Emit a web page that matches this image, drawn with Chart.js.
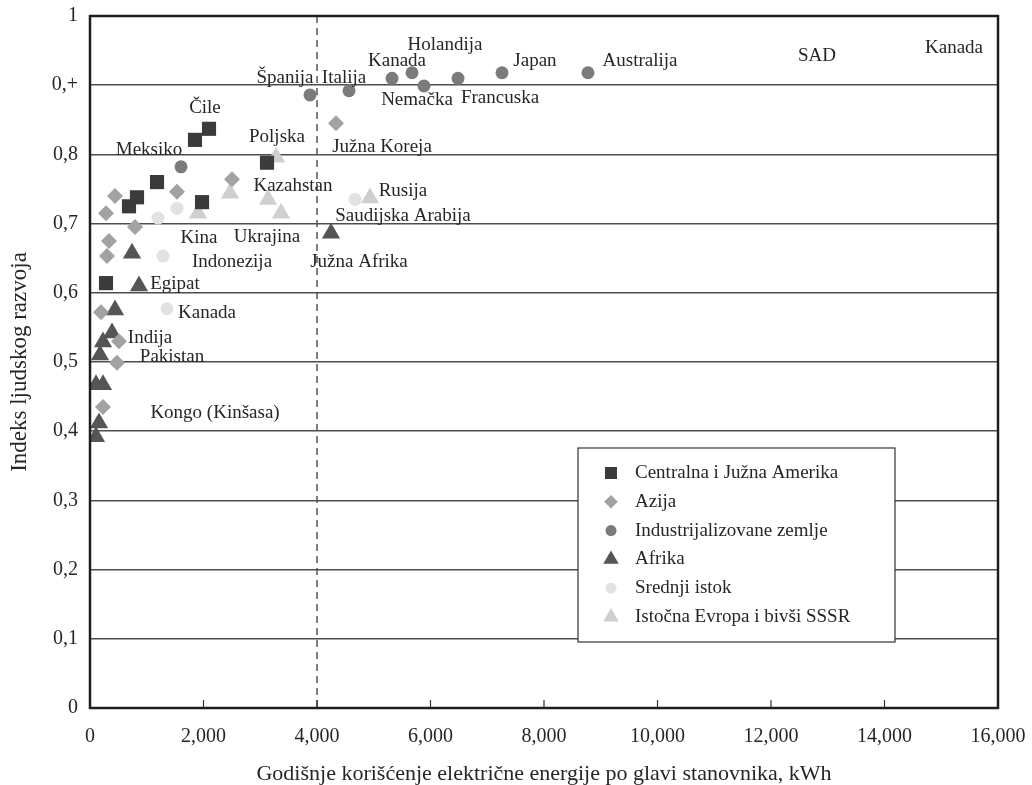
<!DOCTYPE html>
<html lang="sr">
<head>
<meta charset="UTF-8">
<title>Indeks ljudskog razvoja</title>
<script src="https://cdn.jsdelivr.net/npm/chart.js"></script>
<style>
  body { margin: 0; background: #fff; }
  #wrap { width: 1032px; height: 785px; }
</style>
</head>
<body>
<div id="wrap"><canvas id="hdiChart" width="1032" height="785"></canvas></div>
<script>
  // ---- podaci (kWh po stanovniku, indeks) ----
  const amerikaX = [282, 687, 828, 1181, 1850, 2097, 1974, 3119];
  const amerikaY = [0.614, 0.725, 0.738, 0.760, 0.821, 0.837, 0.731, 0.788];

  const azijaX = [282, 441, 793, 1533, 2502, 335, 300, 194, 511, 476, 229, 4335];
  const azijaY = [0.715, 0.740, 0.695, 0.746, 0.764, 0.675, 0.653, 0.572, 0.530, 0.499, 0.435, 0.845];

  const industrX = [1604, 3877, 4564, 5322, 5674, 5885, 6485, 7260, 8775];
  const industrY = [0.782, 0.886, 0.892, 0.910, 0.918, 0.899, 0.910, 0.918, 0.918];

  const afrikaX = [4247, 740, 863, 441, 388, 229, 176, 106, 229, 159, 106];
  const afrikaY = [0.686, 0.657, 0.610, 0.575, 0.542, 0.529, 0.510, 0.467, 0.467, 0.412, 0.392];

  const istokX = [1198, 1533, 1286, 1357, 4670];
  const istokY = [0.708, 0.722, 0.653, 0.577, 0.735];

  const evropaX = [1903, 2467, 3137, 3366, 3278, 4934];
  const evropaY = [0.715, 0.744, 0.735, 0.715, 0.796, 0.737];

  const xTickLabels = ['0', '2,000', '4,000', '6,000', '8,000', '10,000', '12,000', '14,000', '16,000'];
  const yTickLabels = ['0', '0,1', '0,2', '0,3', '0,4', '0,5', '0,6', '0,7', '0,8', '0,+', '1'];
  const granicaX = 4000;

  // nazivi zemalja uz tačke
  const nazivi = ['Čile', 'Meksiko', 'Španija', 'Italija', 'Kanada', 'Holandija', 'Japan', 'Australija',
    'SAD', 'Kanada', 'Nemačka', 'Francuska', 'Južna Koreja', 'Poljska', 'Kazahstan', 'Rusija',
    'Saudijska Arabija', 'Ukrajina', 'Kina', 'Indonezija', 'Južna Afrika', 'Egipat', 'Kanada',
    'Indija', 'Pakistan', 'Kongo (Kinšasa)'];
  const naziviX = [2026, 1040, 3436, 4476, 5410, 6256, 7841, 9692, 12811, 15225, 5762, 7225, 5145,
    3295, 3577, 5515, 5515, 3119, 1921, 2502, 4740, 1498, 2062, 1057, 1445, 2203];
  const naziviY = [0.867, 0.806, 0.910, 0.910, 0.935, 0.958, 0.935, 0.935, 0.942, 0.954, 0.879, 0.882,
    0.811, 0.825, 0.754, 0.747, 0.711, 0.681, 0.679, 0.645, 0.645, 0.613, 0.571, 0.535, 0.507, 0.426];

  const FONT = '"Liberation Serif", "Times New Roman", serif';

  function tacke(xs, ys) {
    return xs.map((x, i) => ({ x: x, y: ys[i] }));
  }

  const grupe = [
    { label: 'Centralna i Južna Amerika', data: tacke(amerikaX, amerikaY), style: 'rect', r: 10, color: '#3b3b3b' },
    { label: 'Azija', data: tacke(azijaX, azijaY), style: 'rectRot', r: 8, color: '#a2a2a2' },
    { label: 'Industrijalizovane zemlje', data: tacke(industrX, industrY), style: 'circle', r: 6.5, color: '#7b7b7b' },
    { label: 'Afrika', data: tacke(afrikaX, afrikaY), style: 'triangle', r: 10.5, color: '#555555' },
    { label: 'Srednji istok', data: tacke(istokX, istokY), style: 'circle', r: 6.5, color: '#e2e2e2' },
    { label: 'Istočna Evropa i bivši SSSR', data: tacke(evropaX, evropaY), style: 'triangle', r: 10.5, color: '#cfcfcf' }
  ];

  const okvirPlugin = {
    id: 'okvir',
    beforeDatasetsDraw(chart) {
      const ctx = chart.ctx, a = chart.chartArea, xs = chart.scales.x;
      const px = xs.getPixelForValue(granicaX);
      ctx.save();
      ctx.strokeStyle = '#555';
      ctx.lineWidth = 1.5;
      ctx.setLineDash([7, 5]);
      ctx.beginPath();
      ctx.moveTo(px, a.top);
      ctx.lineTo(px, a.bottom);
      ctx.stroke();
      ctx.restore();
    },
    afterDraw(chart) {
      const ctx = chart.ctx, a = chart.chartArea, xs = chart.scales.x, ys = chart.scales.y;
      ctx.save();
      // crtice na x osi
      ctx.strokeStyle = '#333';
      ctx.lineWidth = 1.2;
      xs.ticks.forEach(t => {
        const px = xs.getPixelForValue(t.value);
        ctx.beginPath();
        ctx.moveTo(px, a.bottom);
        ctx.lineTo(px, a.bottom - 8);
        ctx.stroke();
      });
      // okvir
      ctx.strokeStyle = '#1e1e1e';
      ctx.lineWidth = 2.5;
      ctx.strokeRect(a.left, a.top, a.right - a.left, a.bottom - a.top);

      // nazivi
      ctx.fillStyle = '#262626';
      ctx.font = '19px ' + FONT;
      ctx.textAlign = 'center';
      ctx.textBaseline = 'middle';
      nazivi.forEach((n, i) => {
        ctx.fillText(n, xs.getPixelForValue(naziviX[i]), ys.getPixelForValue(naziviY[i]));
      });

      // legenda
      const bx = a.left + 488, by = a.top + 432, bw = 317, bh = 194;
      ctx.fillStyle = '#fff';
      ctx.fillRect(bx, by, bw, bh);
      ctx.strokeStyle = '#333';
      ctx.lineWidth = 1.2;
      ctx.strokeRect(bx, by, bw, bh);
      ctx.textAlign = 'left';
      grupe.forEach((g, i) => {
        const ly = by + 25 + i * 28.8;
        ctx.fillStyle = g.color;
        Chart.helpers.drawPoint(ctx, { pointStyle: g.style, radius: g.r * 0.85, rotation: 0, borderWidth: 0 }, bx + 33, ly);
        ctx.fillStyle = '#262626';
        ctx.fillText(g.label, bx + 57, ly);
      });
      ctx.restore();
    }
  };

  new Chart(document.getElementById('hdiChart'), {
    type: 'scatter',
    data: {
      datasets: grupe.map(g => ({
        label: g.label,
        data: g.data,
        pointStyle: g.style,
        pointRadius: g.r,
        pointHoverRadius: g.r,
        backgroundColor: g.color,
        borderWidth: 0
      }))
    },
    options: {
      responsive: false,
      animation: false,
      devicePixelRatio: 1,
      layout: { padding: { top: 16, right: 34, left: 0, bottom: 0 } },
      plugins: {
        legend: { display: false },
        tooltip: { enabled: false }
      },
      scales: {
        x: {
          type: 'linear',
          min: 0, max: 16000,
          afterFit: s => { s.height = 77; s.paddingLeft = 0; s.paddingRight = 0; },
          grid: { display: false, drawTicks: false },
          border: { display: false },
          ticks: {
            stepSize: 2000,
            padding: 17,
            color: '#262626',
            font: { family: FONT, size: 20 },
            callback: (v, i) => xTickLabels[i]
          },
          title: {
            display: true,
            text: 'Godišnje korišćenje električne energije po glavi stanovnika, kWh',
            color: '#262626',
            font: { family: FONT, size: 22, lineHeight: 1 },
            padding: { top: 0, bottom: 0 }
          }
        },
        y: {
          min: 0, max: 1,
          afterFit: s => { s.width = 90; s.paddingTop = 0; s.paddingBottom = 0; },
          grid: { color: '#4d4d4d', lineWidth: 1.5, drawTicks: false },
          border: { display: false },
          ticks: {
            stepSize: 0.1,
            padding: 12,
            color: '#262626',
            font: { family: FONT, size: 20 },
            callback: (v, i) => yTickLabels[i]
          },
          title: {
            display: true,
            text: 'Indeks ljudskog razvoja',
            color: '#262626',
            font: { family: FONT, size: 23, lineHeight: 0.8 },
            padding: { top: 11, bottom: 0 }
          }
        }
      }
    },
    plugins: [okvirPlugin]
  });
</script>
</body>
</html>
